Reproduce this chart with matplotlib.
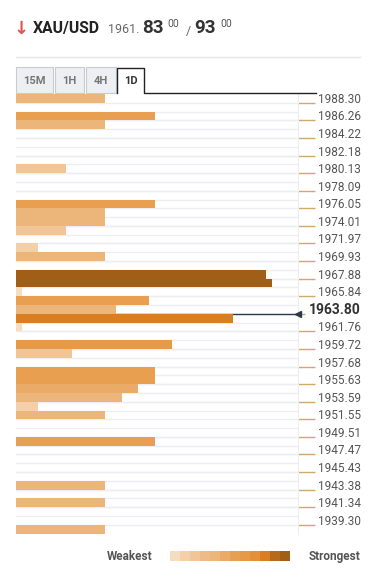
import matplotlib
matplotlib.use('Agg')
import matplotlib.pyplot as plt
import numpy as np
from matplotlib.colors import ListedColormap
from matplotlib.patches import Rectangle
from matplotlib.lines import Line2D

plt.rcParams['font.family'] = ['Roboto', 'DejaVu Sans']

# price ticks on the right (every second row)
price_labels = [1988.30, 1986.26, 1984.22, 1982.18, 1980.13, 1978.09, 1976.05,
                1974.01, 1971.97, 1969.93, 1967.88, 1965.84, 1963.80, 1961.76,
                1959.72, 1957.68, 1955.63, 1953.59, 1951.55, 1949.51, 1947.47,
                1945.43, 1943.38, 1941.34, 1939.30]
current_price = 1963.80

# confluence strength per price row, top to bottom
strength = [16, 0, 25, 16, 0, 0, 0, 0, 9, 0,
            0, 0, 25, 16, 16, 9, 0, 4, 16, 0,
            45, 46, 1, 24, 18, 39, 1, 0, 28, 10,
            0, 25, 25, 22, 19, 4, 16, 0, 0, 25,
            0, 0, 0, 0, 16, 0, 16, 0, 0, 16]

palette = ['#f6dcc0', '#f3d0aa', '#f0c597', '#eebb86', '#ecb57a', '#eaab68',
           '#e8a050', '#e69a48', '#e3903a', '#d97f22', '#b86a1b', '#a05e17']
cmap = ListedColormap(palette)

W, H = 375, 573
def fx(px):
    return px / W
def fy(py):
    return 1 - py / H

fig = plt.figure(figsize=(3.75, 5.73), dpi=100)

# header
fig.text(fx(14), fy(34), '\u2193', family='DejaVu Sans', fontsize=13,
         fontweight='bold', color='#e0544a', va='baseline')
fig.text(fx(33), fy(33), 'XAU/USD', fontsize=11.3, fontweight='bold',
         color='#222222', va='baseline')
fig.text(fx(108), fy(33), '1961.', fontsize=9, color='#666666', va='baseline')
fig.text(fx(142), fy(33), '83', fontsize=13.5, fontweight='bold',
         color='#333333', va='baseline')
fig.text(fx(167), fy(27), '00', fontsize=7.5, color='#555555', va='baseline')
fig.text(fx(186), fy(35), '/', fontsize=9, color='#666666', va='baseline')
fig.text(fx(194), fy(33), '93', fontsize=13.5, fontweight='bold',
         color='#333333', va='baseline')
fig.text(fx(220), fy(27), '00', fontsize=7.5, color='#555555', va='baseline')
fig.add_artist(Line2D([fx(16), fx(360)], [fy(57), fy(57)], color='#e6e6e6', lw=1))

# timeframe tabs
tabs = ['15M', '1H', '4H', '1D']
tab_x = [(16, 53), (55, 84), (86, 116), (117, 144)]
for name, (x0, x1) in zip(tabs, tab_x):
    active = name == '1D'
    if active:
        # open-bottom tab joined to the underline
        fig.add_artist(Line2D([fx(x0), fx(x0), fx(x1), fx(x1), fx(316)],
                              [fy(93), fy(67.5), fy(67.5), fy(93), fy(93)],
                              color='#222222', lw=1))
    else:
        fig.add_artist(Rectangle((fx(x0), fy(93)), fx(x1 - x0), (93 - 67.5) / H,
                                 facecolor='#eeeff3', edgecolor='#c9cad2',
                                 lw=0.8, zorder=2))
    fig.text(fx((x0 + x1) / 2), fy(81), name, fontsize=8, fontweight='bold',
             color='#333333' if active else '#777777', ha='center', va='center',
             zorder=3)

# main chart
ax = fig.add_axes([fx(16), fy(533.6), fx(298) - fx(16), (533.6 - 94) / H])
step = (price_labels[0] - price_labels[-1]) / (2 * (len(price_labels) - 1))
top = price_labels[0] + step
n = len(strength)
rows = top - (np.arange(n) + 0.5) * step
vals = np.array(strength)
idx = np.clip((vals * 12 / 47).astype(int), 0, 11)
ax.barh(rows, vals, height=step, color=cmap(idx), linewidth=0, zorder=3)
ax.axhline(current_price, color='#2b3a4a', lw=1, zorder=2)

ax.set_xlim(0, 50.7)
ax.set_ylim(top - n * step, top)
ax.set_xticks([])
ax.set_yticks(top - np.arange(1, n) * step, minor=True)
ax.set_axisbelow(True)
ax.grid(axis='y', which='both', color='#eceef3', lw=1)
for s in ['top', 'left', 'bottom']:
    ax.spines[s].set_visible(False)
ax.spines['right'].set_color('#eceef3')

ax.yaxis.tick_right()
ax.set_yticks(price_labels)
ax.set_yticklabels([f'{p:.2f}' for p in price_labels])
ax.tick_params(axis='y', which='major', direction='out', length=12, width=1,
               color='#d0a868', pad=33.3, labelsize=8.5, labelcolor='#555555')
ax.tick_params(axis='y', which='minor', length=0)
for lab in ax.get_yticklabels():
    lab.set_ha('right')
    lab.set_va('baseline')

cur_i = price_labels.index(current_price)
t = ax.yaxis.get_major_ticks()[cur_i]
t.tick2line.set_color('#2b3a4a')
t.tick2line.set_markersize(5)
t.label2.set_fontweight('bold')
t.label2.set_fontsize(10)
t.label2.set_color('#333333')
ax.plot([1], [current_price], marker='<', ms=5, color='#2b3a4a',
        transform=ax.get_yaxis_transform(), clip_on=False, zorder=4)

# legend strip
fig.text(fx(152), fy(560), 'Weakest', fontsize=8.5, fontweight='bold',
         color='#555555', ha='right', va='baseline')
fig.text(fx(309), fy(560), 'Strongest', fontsize=8.5, fontweight='bold',
         color='#555555', ha='left', va='baseline')
seg = (290 - 170) / len(palette)
for i, c in enumerate(palette):
    fig.add_artist(Rectangle((fx(170 + i * seg), fy(561)), fx(seg), 10 / H,
                             facecolor=c, edgecolor='none'))

fig.savefig('out.png', dpi=100)
